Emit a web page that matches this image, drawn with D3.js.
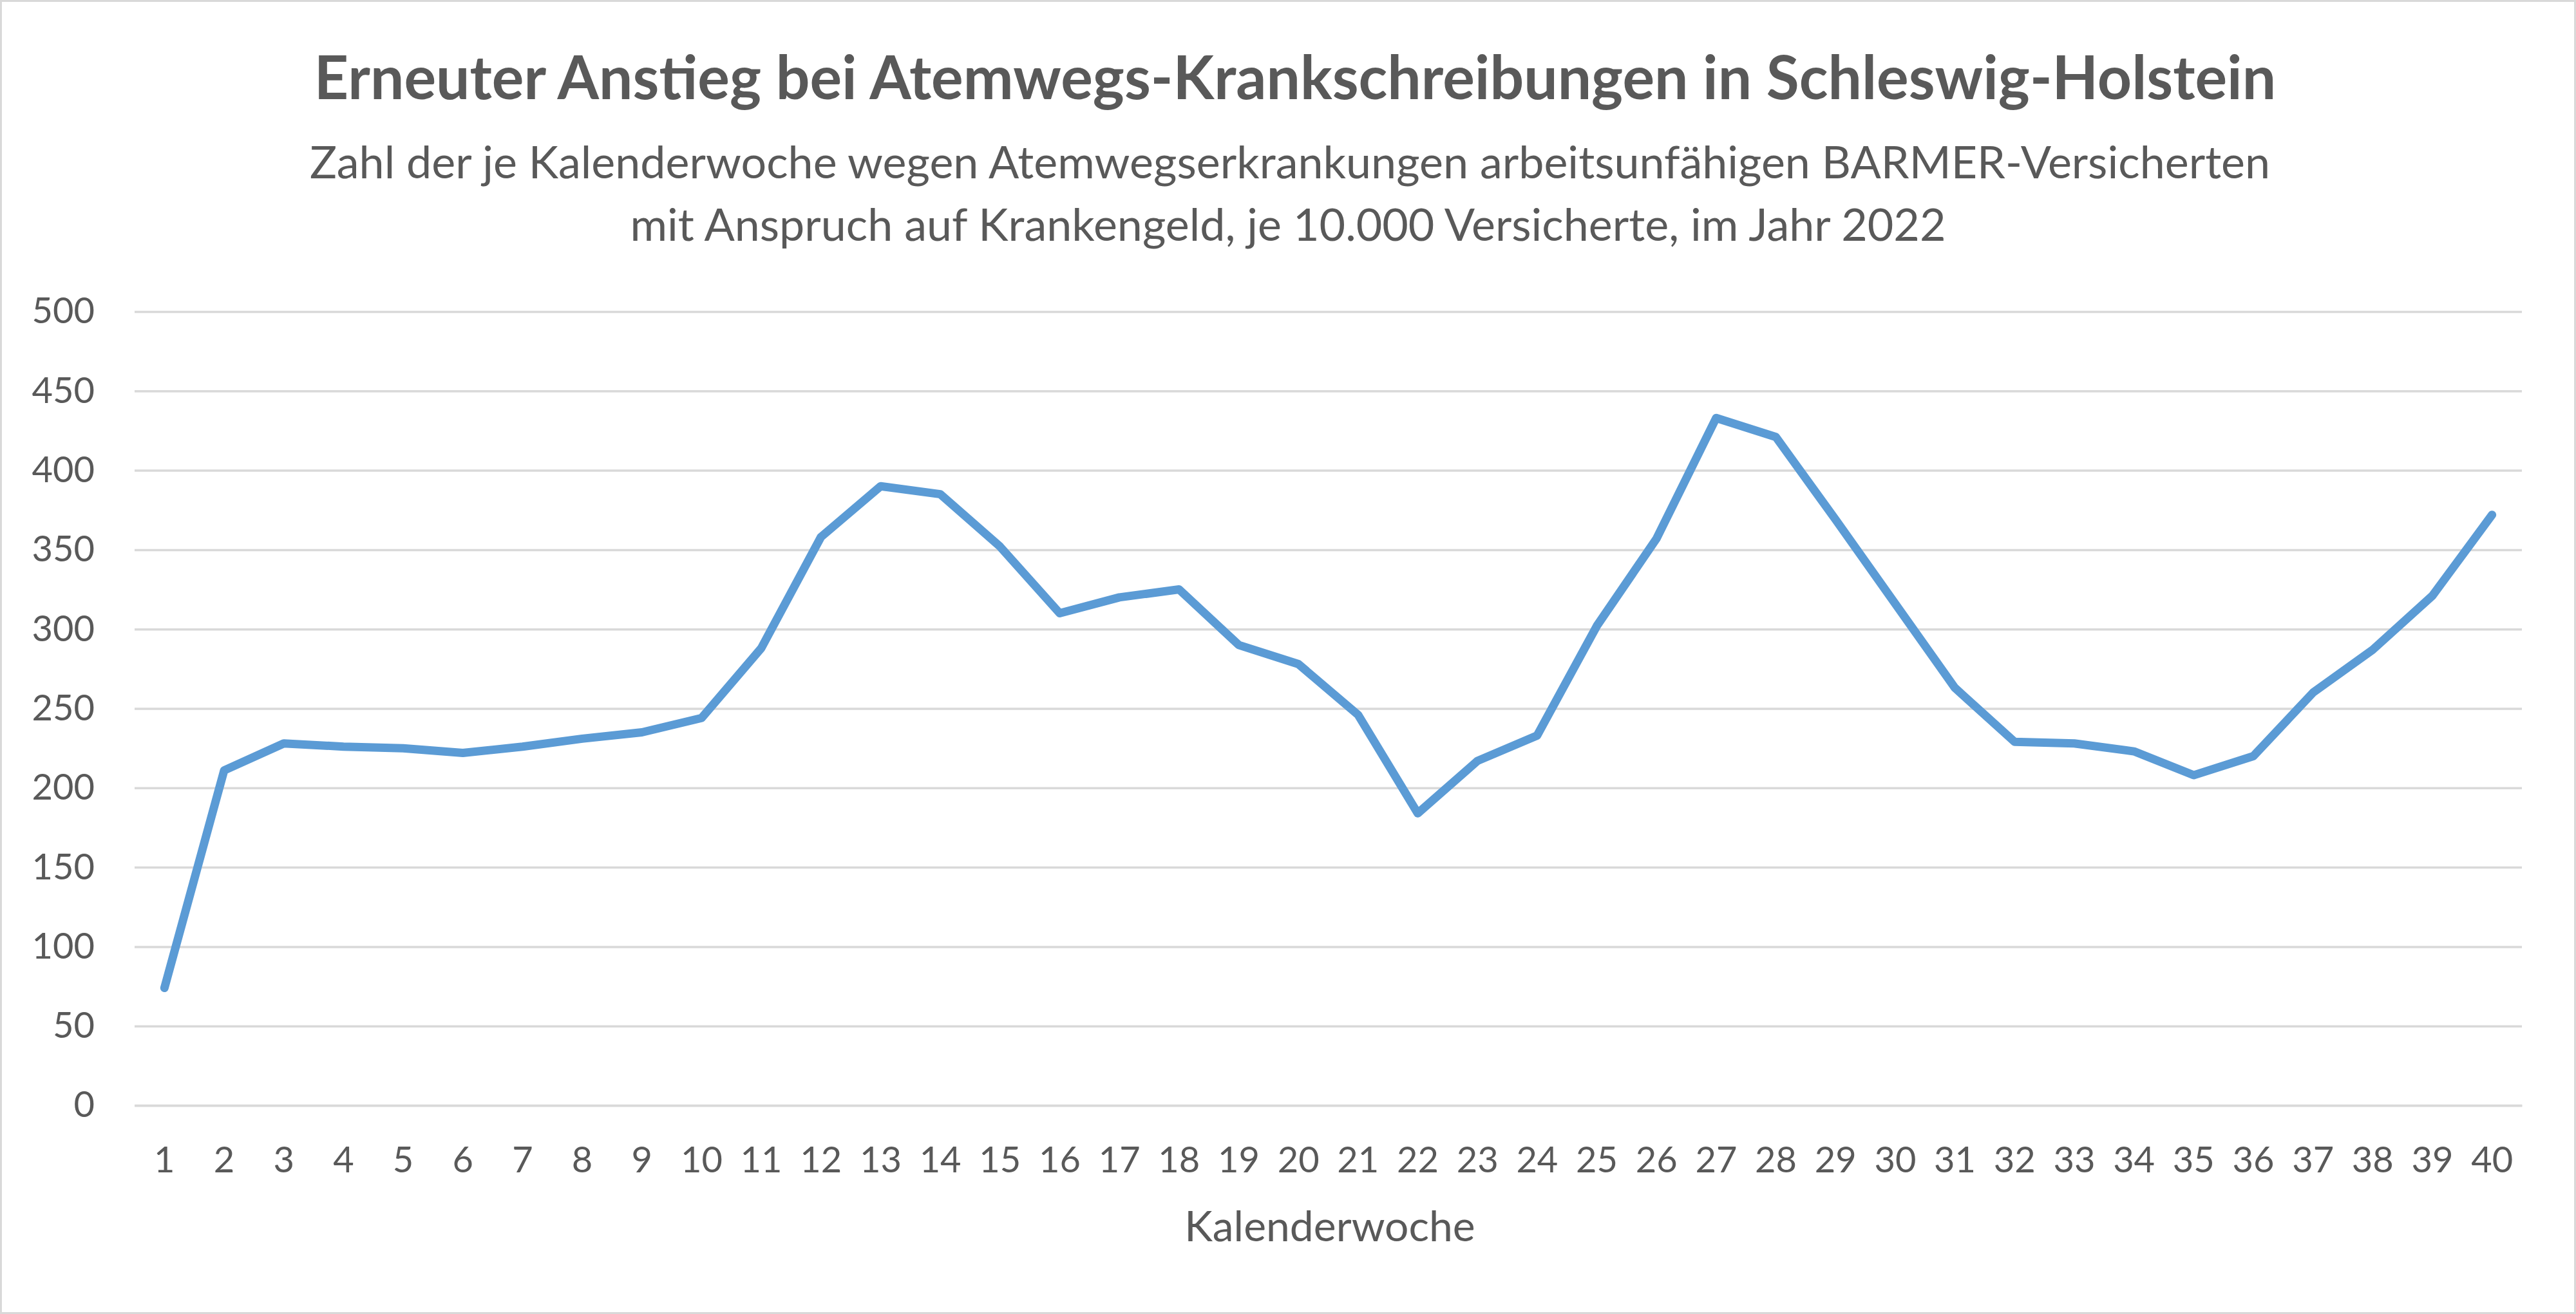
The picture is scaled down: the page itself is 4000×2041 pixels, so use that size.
<!DOCTYPE html>
<html><head><meta charset="utf-8">
<script src="https://cdn.jsdelivr.net/npm/d3@7"></script>
<style>html,body{margin:0;padding:0;background:#fff;}svg{display:block;}</style>
</head><body>
<script>
const title = "Erneuter Anstieg bei Atemwegs-Krankschreibungen in Schleswig-Holstein";
const subtitle1 = "Zahl der je Kalenderwoche wegen Atemwegserkrankungen arbeitsunfähigen BARMER-Versicherten";
const subtitle2 = "mit Anspruch auf Krankengeld, je 10.000 Versicherte, im Jahr 2022";
const xTitle = "Kalenderwoche";
const weeks = d3.range(1, 41);
const values = [74, 211, 228, 226, 225, 222, 226, 231, 235, 244,
                288, 358, 390, 385, 352, 310, 320, 325, 290, 278,
                246, 184, 217, 233, 302, 357, 433, 421, 369, 316,
                263, 229, 228, 223, 208, 220, 260, 287, 321, 372];
const yTicks = [0, 50, 100, 150, 200, 250, 300, 350, 400, 450, 500];

const W = 4000, H = 2041;
const font = "Lato, Carlito, Calibri, sans-serif";
const txt = "#595959";
const svg = d3.select("body").append("svg").attr("width", W).attr("height", H);
svg.append("rect").attr("x", 1.5).attr("y", 1.5).attr("width", W - 3).attr("height", H - 3)
  .attr("fill", "#fff").attr("stroke", "#d9d9d9").attr("stroke-width", 3);

const m = {left: 209, right: 3916, top: 484, bottom: 1717};
const x = d3.scaleBand().domain(weeks).range([m.left, m.right]);
const y = d3.scaleLinear().domain([0, 500]).range([m.bottom, m.top]);

svg.append("text").attr("x", 2011).attr("y", 154).attr("text-anchor", "middle")
  .attr("font-family", font).attr("font-weight", "bold").attr("font-size", 93).attr("fill", txt).text(title);
svg.append("text").attr("x", 2003).attr("y", 277).attr("text-anchor", "middle")
  .attr("font-family", font).attr("font-size", 70).attr("fill", txt).text(subtitle1);
svg.append("text").attr("x", 2000).attr("y", 374).attr("text-anchor", "middle")
  .attr("font-family", font).attr("font-size", 70).attr("fill", txt).text(subtitle2);

// grid
const yAxis = d3.axisLeft(y).tickValues(yTicks).tickSize(-(m.right - m.left)).tickPadding(62);
const gy = svg.append("g").attr("transform", `translate(${m.left},0)`).call(yAxis);
gy.select(".domain").remove();
gy.selectAll(".tick line").attr("stroke", "#d9d9d9").attr("stroke-width", 3.5);
gy.selectAll(".tick text").attr("font-family", font).attr("font-size", 56).attr("fill", txt);

const xAxis = d3.axisBottom(x).tickSize(0).tickPadding(64);
const gx = svg.append("g").attr("transform", `translate(0,${m.bottom})`).call(xAxis);
gx.select(".domain").attr("stroke", "#d9d9d9").attr("stroke-width", 3.5);
gx.selectAll(".tick text").attr("font-family", font).attr("font-size", 56).attr("fill", txt);

svg.append("text").attr("x", 2065).attr("y", 1928).attr("text-anchor", "middle")
  .attr("font-family", font).attr("font-size", 66).attr("fill", txt).text(xTitle);

const line = d3.line().x((d, i) => x(weeks[i]) + x.bandwidth() / 2).y(d => y(d));
svg.append("path").datum(values).attr("d", line).attr("fill", "none")
  .attr("stroke", "#5b9bd5").attr("stroke-width", 13).attr("stroke-linejoin", "round").attr("stroke-linecap", "round");
</script>
</body></html>
